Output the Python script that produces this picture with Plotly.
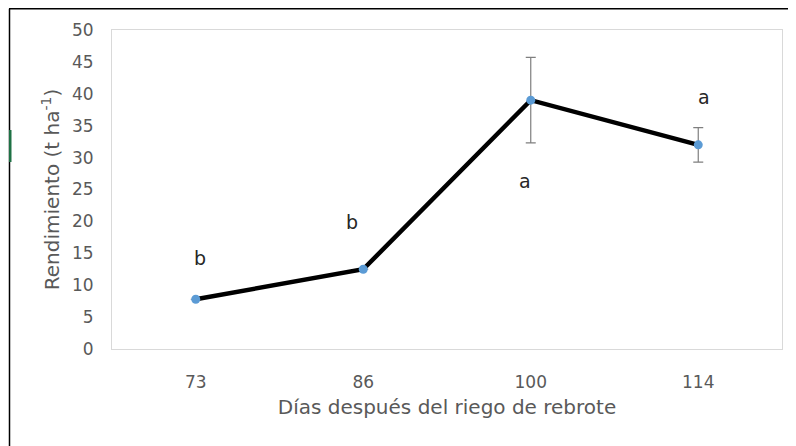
import plotly.graph_objects as go

days = ["73", "86", "100", "114"]
yield_t = [7.8, 12.5, 39.0, 32.0]
err = [None, None, 6.7, 2.7]
letters = ["b", "b", "a", "a"]
letter_y = [14.3, 19.9, 26.3, 39.5]
letter_xshift = [4, -11, -6, 6]

# browser body margin of 8px is compensated here
OFF = 8
W, H = 796 - OFF, 446 - OFF
L, R, T, B = 112 - OFF, 14, 30 - OFF, 97
pw, ph = W - L - R, H - T - B

def px(x):
    return (x - OFF - L) / pw

def py(y):
    return (H - B - (y - OFF)) / ph

font = "DejaVu Sans, sans-serif"

fig = go.Figure()
fig.add_trace(go.Scatter(
    x=days, y=yield_t, mode="lines+markers",
    line=dict(color="black", width=4.5),
    marker=dict(color="#5b9bd5", size=9, symbol="circle"),
    error_y=dict(type="data", array=err, visible=True, color="#7f7f7f",
                 thickness=1.2, width=5),
    showlegend=False,
))

for i, (t, yv, xs) in enumerate(zip(letters, letter_y, letter_xshift)):
    fig.add_annotation(x=i, y=yv, xref="x", yref="y", text=t, showarrow=False,
                       xshift=xs,
                       font=dict(family=font, size=19, color="#262626"))

shapes = [
    dict(type="line", xref="paper", yref="paper", x0=px(9.5), x1=px(9.5),
         y0=py(8.8), y1=py(446), line=dict(color="black", width=1.5)),
    dict(type="line", xref="paper", yref="paper", x0=px(9), x1=px(796),
         y0=py(8.8), y1=py(8.8), line=dict(color="black", width=1.5)),
    dict(type="rect", xref="paper", yref="paper", x0=px(9), x1=px(11.5),
         y0=py(130), y1=py(162), line=dict(width=0), fillcolor="#1e7145"),
]

fig.update_layout(
    width=W, height=H,
    margin=dict(l=L, r=R, t=T, b=B),
    paper_bgcolor="white", plot_bgcolor="white",
    font=dict(family=font, color="#595959", size=16),
    shapes=shapes,
    xaxis=dict(
        type="category", range=[-0.5, 3.5],
        showgrid=False, zeroline=False,
        showline=True, mirror=True, linecolor="#d9d9d9", linewidth=1,
        ticks="", tickfont=dict(size=17, color="#595959"),
        ticklabelstandoff=18,
        title=dict(text="Días después del riego de rebrote",
                   font=dict(size=20, color="#595959"), standoff=8),
    ),
    yaxis=dict(
        range=[0, 50], dtick=5,
        showgrid=False, zeroline=False,
        showline=True, mirror=True, linecolor="#d9d9d9", linewidth=1,
        ticks="", tickfont=dict(size=17, color="#595959"),
        ticklabelstandoff=14,
        title=dict(text="Rendimiento (t ha<sup>-1</sup>)",
                   font=dict(size=20, color="#595959"), standoff=6),
    ),
)

fig.write_html("out.html")
